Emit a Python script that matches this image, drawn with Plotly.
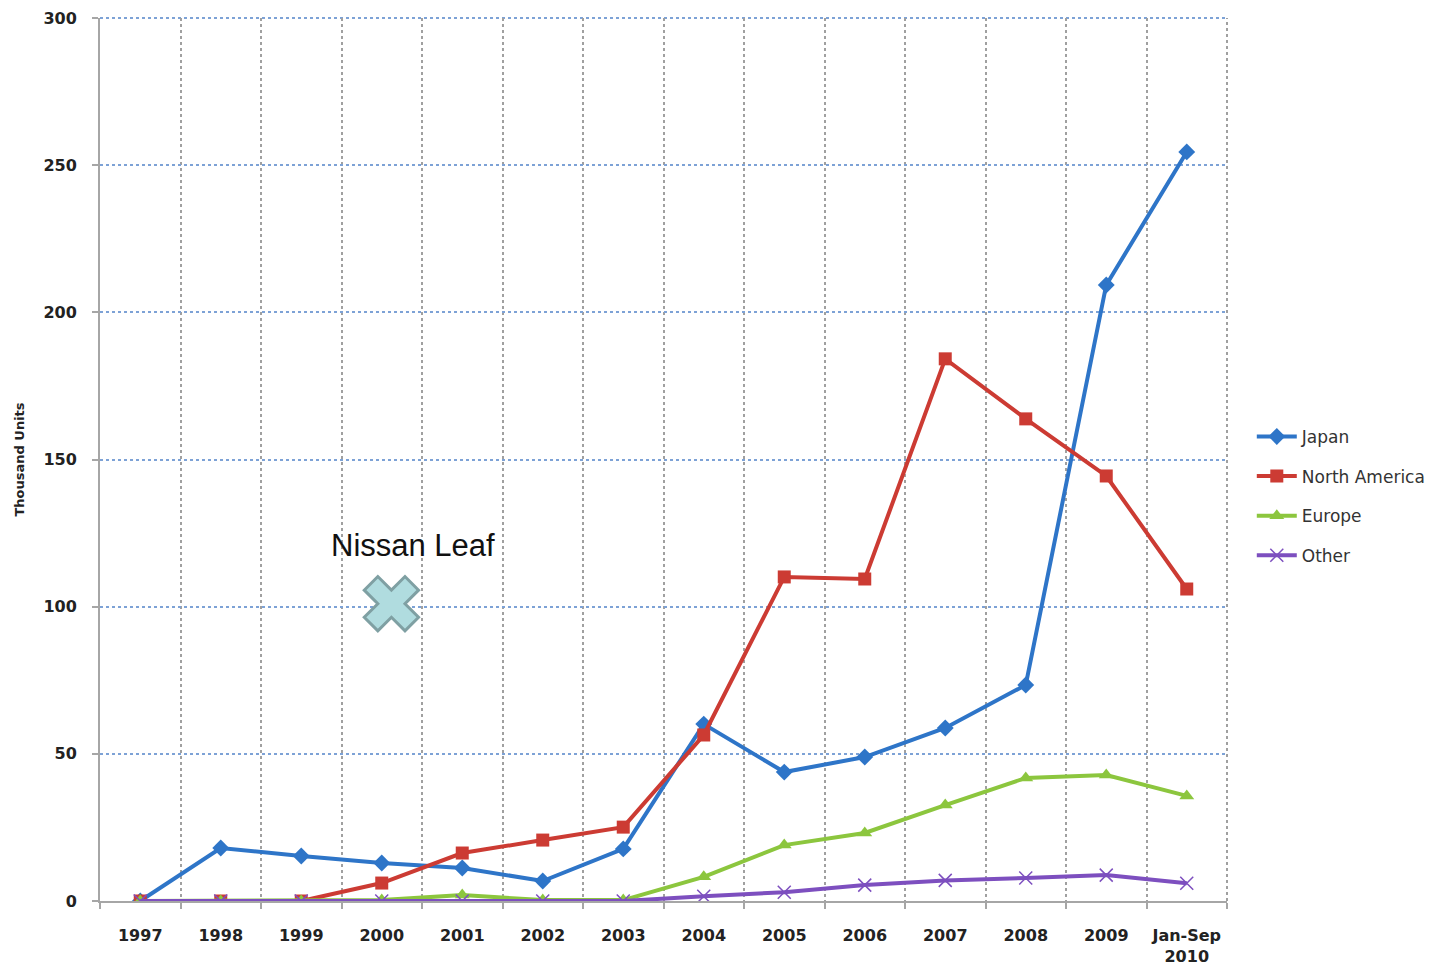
import plotly.graph_objects as go

categories = ["1997", "1998", "1999", "2000", "2001", "2002", "2003", "2004",
              "2005", "2006", "2007", "2008", "2009", "Jan-Sep<br>2010"]
japan = [0, 18, 15.3, 12.9, 11.2, 6.8, 17.7, 60.1, 43.8, 48.9, 58.8, 73.4, 209.3, 254.5]
north_america = [0, 0, 0, 6.1, 16.3, 20.7, 25.1, 56.4, 110.1, 109.4, 184.2, 163.8, 144.4, 106]
europe = [0, 0, 0, 0.3, 2.0, 0.3, 0.3, 8.2, 19.0, 23.1, 32.6, 41.8, 42.8, 35.7]
other = [0, 0, 0, 0, 0, 0, 0, 1.6, 3.0, 5.4, 7.0, 7.8, 8.8, 6.0]
leaf_x = [3.12]
leaf_y = [101]
leaf_label = "Nissan Leaf"
y_ticks = [0, 50, 100, 150, 200, 250, 300]

idx = list(range(len(categories)))
boundaries = [i + 0.5 for i in range(-1, len(categories))]

fig = go.Figure()

series = [
    ("Japan", japan, "#2e75c8", dict(symbol="diamond", size=13)),
    ("North America", north_america, "#cc3b33", dict(symbol="square", size=13)),
    ("Europe", europe, "#8cc63e", dict(symbol="triangle-up", size=13)),
    ("Other", other, "#7d4fbf", dict(symbol="x-thin", size=13,
                                      line=dict(width=1.5, color="#7d4fbf"))),
]
for name, vals, color, mk in series:
    fig.add_trace(go.Scatter(
        x=idx, y=vals, name=name, mode="lines+markers",
        line=dict(color=color, width=4),
        marker=dict(color=color, **mk),
        legendgroup=name,
    ))

fig.add_trace(go.Scatter(
    x=leaf_x, y=leaf_y, mode="markers", showlegend=False,
    marker=dict(symbol="x", size=48, color="#b0dcdf",
                line=dict(color="#7fa0a3", width=3)),
))

fig.add_annotation(x=leaf_x[0], y=leaf_y[0], text=leaf_label, showarrow=False,
                   xshift=22, yshift=58,
                   font=dict(family="Liberation Sans, Arial", size=31, color="#111111"))

# grid lines on the outer edges of the plot area (top and right)
fig.add_shape(type="line", xref="paper", yref="paper", x0=0, x1=1, y0=1, y1=1,
              line=dict(color="#7da2d6", width=2, dash="dot"), layer="below")
fig.add_shape(type="line", xref="paper", yref="paper", x0=1, x1=1, y0=0, y1=1,
              line=dict(color="#a0a0a0", width=2, dash="dot"), layer="below")

fig.update_layout(
    width=1433, height=960,
    margin=dict(l=92, r=214, t=10, b=67),
    paper_bgcolor="white", plot_bgcolor="white",
    showlegend=True,
    legend=dict(x=1.022, y=0.546, xanchor="left", yanchor="top",
                font=dict(family="DejaVu Sans", size=17, color="#333333"),
                tracegroupgap=14.5, itemwidth=40),
    xaxis=dict(
        range=[-0.5, len(categories) - 0.5],
        tickvals=idx, ticktext=["<b>%s</b>" % c for c in categories],
        tickfont=dict(family="DejaVu Sans", size=16, color="#222222"),
        ticklabelstandoff=19, automargin=False,
        showgrid=False, zeroline=False,
        showline=True, linecolor="#a6a6a6", linewidth=2,
        ticks="",
        minor=dict(tickvals=boundaries, showgrid=True, gridcolor="#a0a0a0",
                   griddash="dot", gridwidth=2, ticks="outside", ticklen=6,
                   tickcolor="#a6a6a6", tickwidth=2),
    ),
    yaxis=dict(
        range=[0, 300], tickvals=y_ticks,
        ticktext=["<b>%d</b>" % v for v in y_ticks],
        tickfont=dict(family="DejaVu Sans", size=16, color="#222222"),
        ticklabelstandoff=12, automargin=False,
        showgrid=True, gridcolor="#7da2d6", griddash="dot", gridwidth=2,
        zeroline=False, showline=True, linecolor="#a6a6a6", linewidth=2,
        ticks="outside", ticklen=6, tickcolor="#a6a6a6", tickwidth=2,
        title=dict(text="<b>Thousand Units</b>",
                   font=dict(family="DejaVu Sans", size=13, color="#222222"),
                   standoff=16),
    ),
)

fig.write_html("out.html")
